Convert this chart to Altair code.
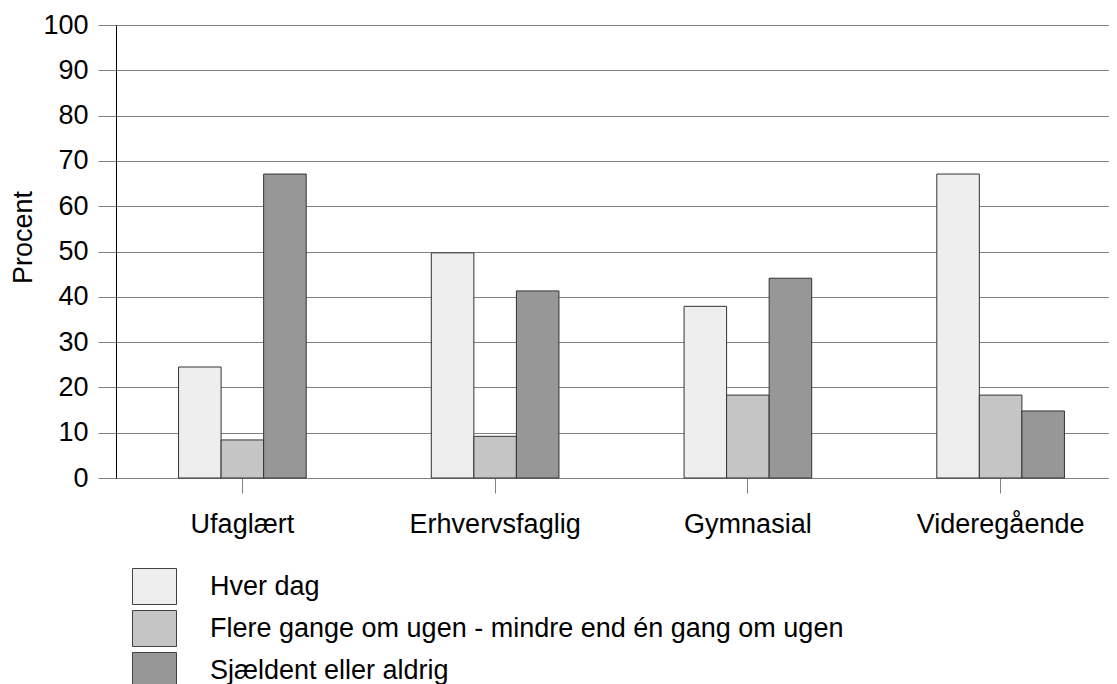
import altair as alt
import pandas as pd

categories = ["Ufaglært", "Erhvervsfaglig", "Gymnasial", "Videregående"]
series = ["Hver dag", "Flere gange om ugen - mindre end én gang om ugen", "Sjældent eller aldrig"]
hver_dag = [24.5, 49.7, 37.9, 67.1]
flere_gange = [8.4, 9.2, 18.3, 18.3]
sjaeldent = [67.1, 41.3, 44.1, 14.8]
colors = ["#eeeeee", "#c5c5c5", "#979797"]
y_ticks = list(range(0, 101, 10))

rows = []
for name, vals in zip(series, [hver_dag, flere_gange, sjaeldent]):
    for c, v in zip(categories, vals):
        rows.append({"Uddannelse": c, "Serie": name, "Procent": v})
df = pd.DataFrame(rows)

FONT = "Liberation Sans"

chart = (
    alt.Chart(df)
    .mark_bar(stroke="#333333", strokeWidth=1)
    .encode(
        x=alt.X(
            "Uddannelse:N",
            sort=categories,
            scale=alt.Scale(paddingInner=0.495, paddingOuter=0.2475, range=[0, 1011]),
            axis=alt.Axis(
                title=None,
                labelAngle=0,
                labelFontSize=27,
                labelColor="black",
                labelPadding=18,
                tickColor="#808080",
                tickSize=15,
                domainColor="#808080",
                grid=False,
            ),
        ),
        xOffset=alt.XOffset(
            "Serie:N",
            sort=series,
            scale=alt.Scale(paddingInner=0, paddingOuter=0),
        ),
        y=alt.Y(
            "Procent:Q",
            scale=alt.Scale(domain=[0, 100], nice=False),
            axis=alt.Axis(
                values=y_ticks,
                grid=True,
                gridColor="#808080",
                gridWidth=1,
                domainColor="black",
                tickColor="#808080",
                tickSize=18,
                labelFontSize=27,
                labelColor="black",
                labelPadding=10,
                title="Procent",
                titleFontSize=27,
                titleFontWeight="normal",
                titleColor="black",
                titleAngle=270,
                titleX=-93,
                titleY=212,
                titleAlign="center",
                titleBaseline="middle",
            ),
        ),
        color=alt.Color(
            "Serie:N",
            sort=series,
            scale=alt.Scale(domain=series, range=colors),
            legend=alt.Legend(
                title=None,
                orient="none",
                legendX=19,
                legendY=542,
                direction="vertical",
                symbolType="M-1.158,-0.947H1.158V0.947H-1.158Z",
                symbolSize=1444,
                symbolStrokeColor="#404040",
                symbolStrokeWidth=1,
                symbolOpacity=1,
                labelFontSize=27,
                labelColor="black",
                labelOffset=36,
                rowPadding=1,
                padding=0,
                labelLimit=900,
            ),
        ),
    )
    .properties(
        width=993,
        height=453,
        autosize=alt.AutoSizeParams(type="none"),
        padding={"left": 108, "top": 17, "right": 0, "bottom": 212},
    )
    .configure(font=FONT)
    .configure_view(stroke=None)
)

chart.save("out.html", embed_options={"renderer": "svg", "actions": False})
